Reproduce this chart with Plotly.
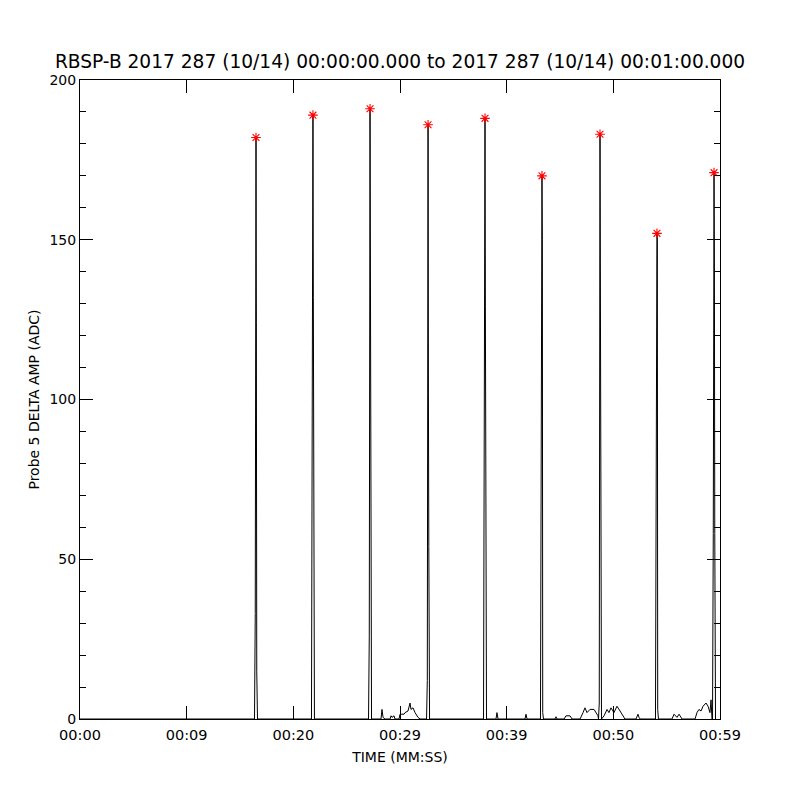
import plotly.graph_objects as go

# ---- data (seconds since 00:00:00, amplitude in ADC) ----
spike_times = [16.50, 21.84, 27.19, 32.63, 37.97, 43.31, 48.75, 54.09, 59.44]
spike_peaks = [182, 189, 191, 186, 188, 170, 183, 152, 171]
spike_rise = [33, 106, 26, 12, 111, 65, 5, 75, 58]
spike_fall1 = [124, 132, 121, 102, 129, 150, 104, 150, 143]
spike_fall2 = [15, 2, 27, 54, 2, 2, 47, 3, 58]

noise_t = [0.0,
           27.375, 28.22, 28.31, 28.41, 28.59, 29.06, 29.16, 29.25, 29.44, 29.53, 29.91, 30.0,
           30.38, 30.47, 30.75, 30.94, 31.03, 31.22, 31.41, 31.59, 31.69, 31.88, 32.06,
           39.0, 39.09, 39.19, 41.72, 41.81, 41.91,
           44.53, 44.63, 44.72, 45.38, 45.56, 45.94, 46.13, 46.88, 47.16, 47.34, 47.53,
           47.81, 48.19, 48.38, 48.56,
           49.13, 49.41, 49.59, 49.78, 50.06, 50.34, 50.63, 50.91, 51.09, 52.13, 52.31,
           52.41, 52.5,
           55.5, 55.69, 55.97, 56.16, 56.44, 57.66, 57.84, 58.03, 58.22, 58.41, 58.69,
           58.88, 59.06, 59.16, 59.25]
noise_v = [0,
           0, 0, 3, 0.5, 0, 0, 1, 0.5, 1, 0, 0, 1.5,
           1.5, 2, 2.5, 5, 3, 3.5, 2, 1, 0.5, 0, 0,
           0, 2, 0, 0, 1.5, 0,
           0, 0.7, 0, 0, 1, 1, 0, 0, 2, 3.5, 2,
           3, 3, 2, 1,
           1, 3, 2, 3.5, 2, 4, 2.5, 1, 0, 0, 1.5,
           0.5, 0,
           0, 1.5, 0.5, 1.5, 0, 0, 2, 3, 2.5, 4, 5,
           4, 2, 6, 0]

peak_offsets = [-0.14, -0.07, 0.0, 0.035, 0.07, 0.14]

# build the time series
pts = list(zip(noise_t, noise_v))
for i, tp in enumerate(spike_times):
    vals = [0, spike_rise[i], spike_peaks[i], spike_fall1[i], spike_fall2[i], 0]
    for off, v in zip(peak_offsets, vals):
        pts.append((tp + off, v))
pts.sort(key=lambda p: p[0])
t = [p[0] for p in pts]
amp = [p[1] for p in pts]

tick_vals = [0, 10, 20, 30, 40, 50, 60]
tick_text = ["00:00", "00:09", "00:20", "00:29", "00:39", "00:50", "00:59"]

FONT = "DejaVu Sans"

fig = go.Figure()
fig.add_trace(go.Scatter(x=t, y=amp, mode="lines",
                         line=dict(color="black", width=1), hoverinfo="skip",
                         showlegend=False))
fig.add_trace(go.Scatter(x=spike_times, y=spike_peaks, mode="markers",
                         marker=dict(symbol="asterisk-open", size=8,
                                     line=dict(color="red", width=1.1), color="red"),
                         showlegend=False))

# the page body adds an 8px offset, margins compensate for it
fig.update_layout(
    width=800, height=800, autosize=False,
    margin=dict(l=72, r=88, t=72, b=89),
    paper_bgcolor="white", plot_bgcolor="white",
    font=dict(family=FONT, size=14, color="black"),
    title=dict(text="RBSP-B 2017 287 (10/14) 00:00:00.000 to 2017 287 (10/14) 00:01:00.000",
               x=(400 - 8) / 800, xanchor="center", y=1 - 53 / 800, yanchor="middle",
               font=dict(family=FONT, size=18.6, color="black")),
    xaxis=dict(range=[0, 60], tickmode="array", tickvals=tick_vals, ticktext=tick_text,
               ticks="inside", ticklen=13, tickcolor="black", tickwidth=1,
               showline=True, linecolor="black", linewidth=1, mirror="ticks",
               showgrid=False, zeroline=False, ticklabelstandoff=3,
               title=dict(text="TIME (MM:SS)", standoff=9, font=dict(size=14)),
               tickfont=dict(size=14.5)),
    yaxis=dict(range=[0, 200], tickmode="array", tickvals=[0, 50, 100, 150, 200],
               ticks="inside", ticklen=13, tickcolor="black", tickwidth=1,
               showline=True, linecolor="black", linewidth=1, mirror="ticks",
               showgrid=False, zeroline=False,
               minor=dict(tickmode="array",
                          tickvals=[10, 20, 30, 40, 60, 70, 80, 90, 110, 120, 130, 140,
                                    160, 170, 180, 190],
                          ticks="inside", ticklen=6, tickcolor="black", tickwidth=1,
                          showgrid=False),
               title=dict(text="Probe 5 DELTA AMP (ADC)", standoff=6, font=dict(size=14)),
               tickfont=dict(size=14)),
)

fig.write_html("out.html")
